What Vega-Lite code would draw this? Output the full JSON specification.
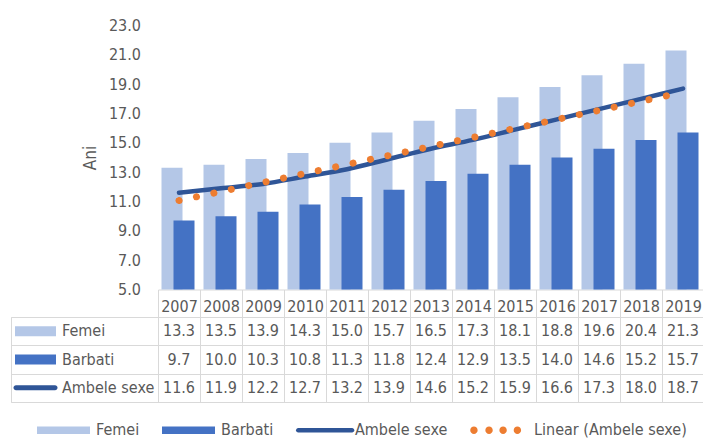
{
  "$schema": "https://vega.github.io/schema/vega-lite/v6.json",
  "padding": {"left": 10, "top": 17.5, "right": 0, "bottom": 0},
  "config": {
    "view": {"stroke": null},
    "font": "DejaVu Sans Condensed, Liberation Sans, sans-serif",
    "axis": {"labelColor": "#595959", "titleColor": "#595959"},
    "legend": {"labelColor": "#595959"}
  },
  "datasets": {
    "ani": [
      {"year": 2007, "series": "Femei", "value": 13.3},
      {"year": 2008, "series": "Femei", "value": 13.5},
      {"year": 2009, "series": "Femei", "value": 13.9},
      {"year": 2010, "series": "Femei", "value": 14.3},
      {"year": 2011, "series": "Femei", "value": 15.0},
      {"year": 2012, "series": "Femei", "value": 15.7},
      {"year": 2013, "series": "Femei", "value": 16.5},
      {"year": 2014, "series": "Femei", "value": 17.3},
      {"year": 2015, "series": "Femei", "value": 18.1},
      {"year": 2016, "series": "Femei", "value": 18.8},
      {"year": 2017, "series": "Femei", "value": 19.6},
      {"year": 2018, "series": "Femei", "value": 20.4},
      {"year": 2019, "series": "Femei", "value": 21.3},
      {"year": 2007, "series": "Barbati", "value": 9.7},
      {"year": 2008, "series": "Barbati", "value": 10.0},
      {"year": 2009, "series": "Barbati", "value": 10.3},
      {"year": 2010, "series": "Barbati", "value": 10.8},
      {"year": 2011, "series": "Barbati", "value": 11.3},
      {"year": 2012, "series": "Barbati", "value": 11.8},
      {"year": 2013, "series": "Barbati", "value": 12.4},
      {"year": 2014, "series": "Barbati", "value": 12.9},
      {"year": 2015, "series": "Barbati", "value": 13.5},
      {"year": 2016, "series": "Barbati", "value": 14.0},
      {"year": 2017, "series": "Barbati", "value": 14.6},
      {"year": 2018, "series": "Barbati", "value": 15.2},
      {"year": 2019, "series": "Barbati", "value": 15.7},
      {"year": 2007, "series": "Ambele sexe", "value": 11.6},
      {"year": 2008, "series": "Ambele sexe", "value": 11.9},
      {"year": 2009, "series": "Ambele sexe", "value": 12.2},
      {"year": 2010, "series": "Ambele sexe", "value": 12.7},
      {"year": 2011, "series": "Ambele sexe", "value": 13.2},
      {"year": 2012, "series": "Ambele sexe", "value": 13.9},
      {"year": 2013, "series": "Ambele sexe", "value": 14.6},
      {"year": 2014, "series": "Ambele sexe", "value": 15.2},
      {"year": 2015, "series": "Ambele sexe", "value": 15.9},
      {"year": 2016, "series": "Ambele sexe", "value": 16.6},
      {"year": 2017, "series": "Ambele sexe", "value": 17.3},
      {"year": 2018, "series": "Ambele sexe", "value": 18.0},
      {"year": 2019, "series": "Ambele sexe", "value": 18.7}
    ]
  },
  "columns": 2,
  "spacing": {"row": 27.5, "column": 0},
  "bounds": "flush",
  "align": "each",
  "concat": [
    {
      "width": 147, "height": 10,
      "data": {"values": []},
      "mark": "point"
    },
    {
      "width": 546, "height": 264,
      "data": {"name": "ani"},
      "encoding": {
        "x": {
          "field": "year", "type": "ordinal",
          "scale": {"paddingInner": 0, "paddingOuter": 0},
          "axis": {
            "title": null, "labelAngle": 0, "labelFontSize": 16, "labelColor": "#595959",
            "tickBand": "extent", "tickSize": 27.5, "tickColor": "#d9d9d9",
            "domainColor": "#d9d9d9", "labelBaseline": "middle", "labelPadding": -10.5,
            "grid": false
          }
        },
        "y": {
          "field": "value", "type": "quantitative",
          "scale": {"domain": [5, 23], "zero": false, "nice": false},
          "axis": {
            "title": "Ani", "values": [5, 7, 9, 11, 13, 15, 17, 19, 21, 23], "format": ".1f",
            "labelFontSize": 16, "titleFontSize": 17, "titleFontWeight": "normal",
            "ticks": false, "domain": false, "grid": false, "labelPadding": 17.5,
            "titlePadding": 9, "labelFlush": false, "labelOverlap": false
          }
        }
      },
      "layer": [
        {
          "transform": [{"filter": "datum.series === 'Femei'"}],
          "mark": {"type": "bar", "width": 21, "xOffset": -7},
          "encoding": {
            "y2": {"datum": 5},
            "color": {
              "datum": "Femei",
              "scale": {
                "domain": ["Femei", "Barbati", "Ambele sexe", "Linear (Ambele sexe)"],
                "range": ["#b4c7e7", "#4472c4", "#2f5597", "#ed7d31"]
              },
              "legend": {
                "orient": "none", "legendX": 26, "legendY": 378, "direction": "horizontal",
                "title": null, "symbolSize": 2809, "labelFontSize": 16, "labelOffset": 6,
                "columnPadding": 22, "padding": 0,
                "encode": {
                  "symbols": {
                    "update": {
                      "shape": {"signal": "datum.value === 'Femei' || datum.value === 'Barbati' ? 'M-1,-0.145H1V0.145H-1Z' : datum.value === 'Ambele sexe' ? 'M-0.915,-0.085H1.115A0.085,0.085 0 0 1 1.115,0.085H-0.915A0.085,0.085 0 0 1 -0.915,-0.085Z' : 'M-1.18,0a0.14,0.14 0 1,0 0.28,0a0.14,0.14 0 1,0 -0.28,0M-0.61,0a0.14,0.14 0 1,0 0.28,0a0.14,0.14 0 1,0 -0.28,0M-0.08,0a0.14,0.14 0 1,0 0.28,0a0.14,0.14 0 1,0 -0.28,0M0.46,0a0.14,0.14 0 1,0 0.28,0a0.14,0.14 0 1,0 -0.28,0'"},
                      "fill": {"signal": "datum.value === 'Femei' ? '#b4c7e7' : datum.value === 'Barbati' ? '#4472c4' : datum.value === 'Ambele sexe' ? '#2f5597' : '#ed7d31'"},
                      "stroke": {"value": "transparent"},
                      "strokeWidth": {"value": 0},
                      "opacity": {"value": 1}
                    }
                  }
                }
              }
            }
          }
        },
        {
          "transform": [{"filter": "datum.series === 'Barbati'"}],
          "mark": {"type": "bar", "width": 21, "xOffset": 5},
          "encoding": {
            "y2": {"datum": 5},
            "color": {"datum": "Barbati"}
          }
        },
        {
          "transform": [{"filter": "datum.series === 'Ambele sexe'"}],
          "mark": {"type": "line", "strokeWidth": 4.5, "strokeCap": "round", "interpolate": "monotone"},
          "encoding": {
            "color": {"datum": "Ambele sexe"}
          }
        },
        {
          "transform": [
            {"filter": "datum.series === 'Ambele sexe'"},
            {"regression": "value", "on": "year"}
          ],
          "mark": {"type": "line", "strokeWidth": 7, "strokeCap": "round", "strokeDash": [0.1, 17.7]},
          "encoding": {
            "color": {"datum": "Linear (Ambele sexe)"}
          }
        },
        {
          "data": {"values": [{"label": ["y = 0.6148x + 10.45", "R² = 0.9898"]}]},
          "mark": {"type": "text", "fontSize": 17, "lineHeight": 20, "color": "#595959", "align": "center", "baseline": "middle"},
          "encoding": {
            "x": {"datum": 2009, "type": "ordinal", "bandPosition": 0.12},
            "y": {"datum": 19.94, "type": "quantitative"},
            "text": {"field": "label"}
          }
        }
      ]
    },
    {
      "width": 147, "height": 85,
      "view": {"stroke": "#d9d9d9"},
      "data": {"values": [{"row": "Femei"}, {"row": "Barbati"}, {"row": "Ambele sexe"}]},
      "encoding": {
        "y": {
          "field": "row", "type": "nominal",
          "scale": {"domain": ["Femei", "Barbati", "Ambele sexe"], "paddingInner": 0, "paddingOuter": 0},
          "axis": {"title": null, "labels": false, "ticks": false, "domain": false, "grid": true, "tickBand": "extent", "gridColor": "#d9d9d9"}
        }
      },
      "layer": [
        {
          "transform": [{"filter": "datum.row !== 'Ambele sexe'"}],
          "mark": {"type": "tick", "orient": "horizontal", "size": 41, "thickness": 10, "opacity": 1},
          "encoding": {
            "x": {"datum": "sw", "type": "nominal", "scale": {"domain": ["sw", "lbl", "pad"], "paddingInner": 0, "paddingOuter": 0}, "axis": null},
            "color": {"condition": {"test": "datum.row === 'Femei'", "value": "#b4c7e7"}, "value": "#4472c4"}
          }
        },
        {
          "transform": [{"filter": "datum.row === 'Ambele sexe'"}],
          "mark": {"type": "tick", "orient": "horizontal", "size": 44, "thickness": 5, "cornerRadius": 2.5, "color": "#2f5597", "opacity": 1},
          "encoding": {
            "x": {"datum": "sw", "type": "nominal"}
          }
        },
        {
          "mark": {"type": "text", "fontSize": 16, "color": "#595959", "align": "left", "baseline": "middle", "dx": 2},
          "encoding": {
            "x": {"datum": "lbl", "type": "nominal", "bandPosition": 0},
            "text": {"field": "row"}
          }
        }
      ]
    },
    {
      "width": 546, "height": 85,
      "view": {"stroke": "#d9d9d9"},
      "data": {"name": "ani"},
      "mark": {"type": "text", "fontSize": 16, "color": "#595959", "baseline": "middle"},
      "encoding": {
        "x": {
          "field": "year", "type": "ordinal",
          "scale": {"paddingInner": 0, "paddingOuter": 0},
          "axis": {"title": null, "labels": false, "ticks": false, "domain": false, "grid": true, "tickBand": "extent", "gridColor": "#d9d9d9"}
        },
        "y": {
          "field": "series", "type": "nominal",
          "scale": {"domain": ["Femei", "Barbati", "Ambele sexe"], "paddingInner": 0, "paddingOuter": 0},
          "axis": {"title": null, "labels": false, "ticks": false, "domain": false, "grid": true, "tickBand": "extent", "gridColor": "#d9d9d9"}
        },
        "text": {"field": "value", "type": "quantitative", "format": ".1f"}
      }
    }
  ]
}
